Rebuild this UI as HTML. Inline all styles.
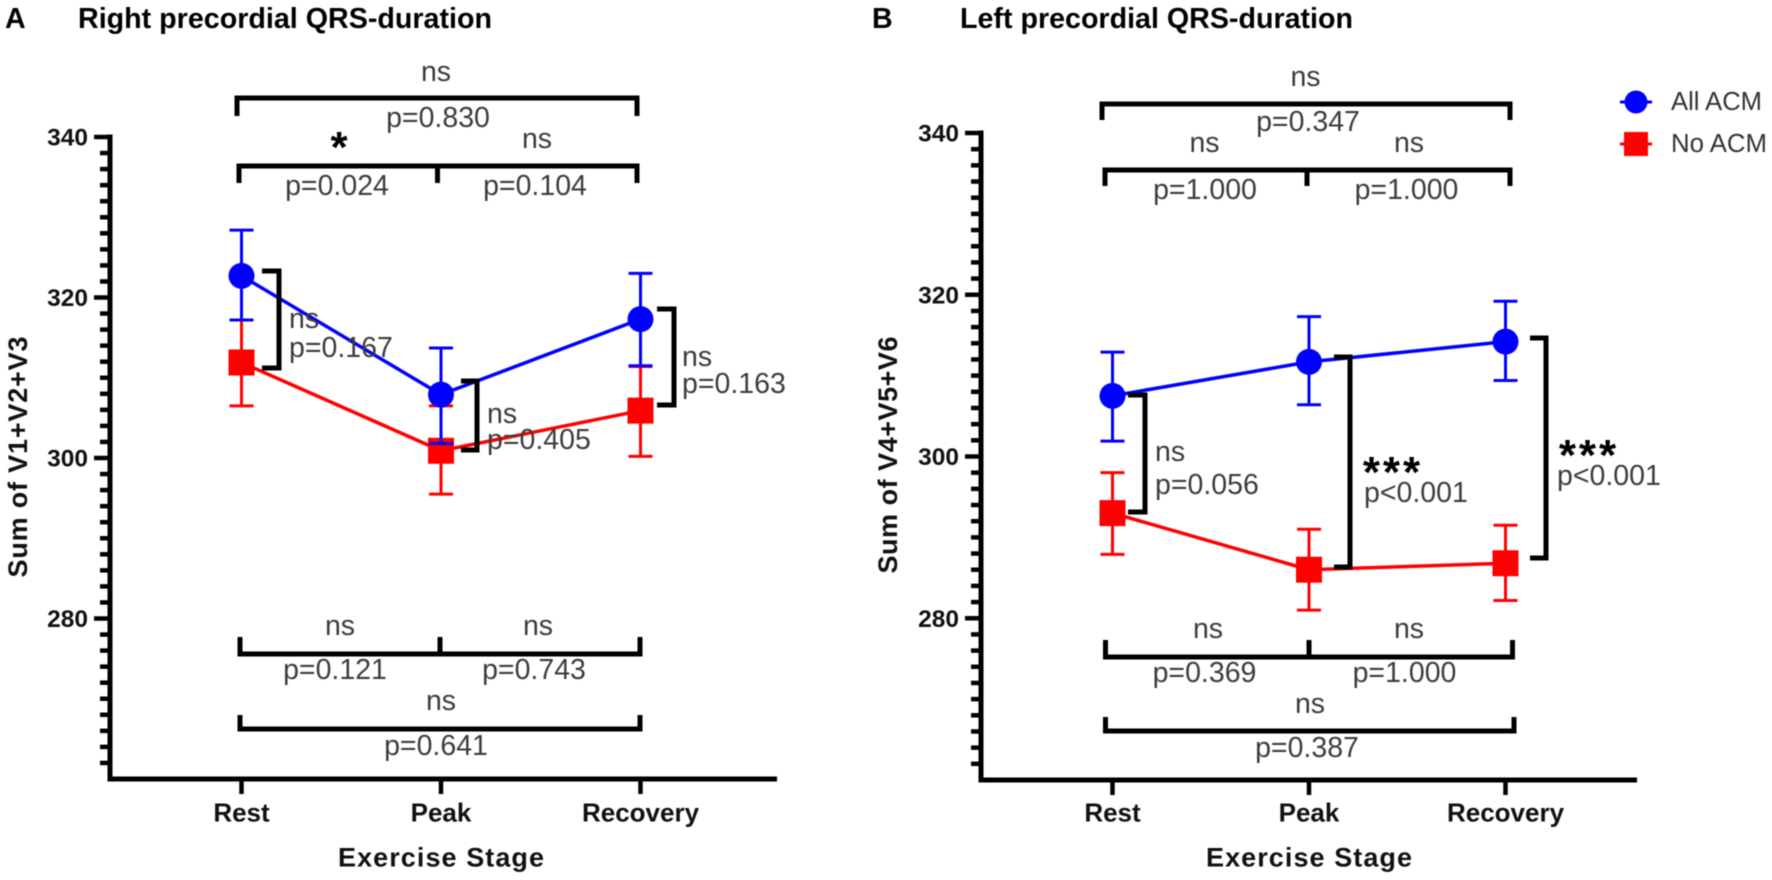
<!DOCTYPE html>
<html lang="en">
<head>
<meta charset="utf-8">
<title>QRS-duration by exercise stage</title>
<style>
html,body{margin:0;padding:0;background:#fff;width:1772px;height:880px;overflow:hidden}
svg{display:block;filter:blur(.4px)}
text{font-family:"Liberation Sans",sans-serif}
.a{font-size:28.5px;fill:#3c3c3c}
.m{text-anchor:middle}
.t{font-size:28.6px;font-weight:bold;fill:#000}
.star{font-size:44px;font-weight:bold;fill:#000;text-anchor:middle}
.br{fill:none;stroke:#000;stroke-width:5}
.lg{font-size:25.5px;fill:#333}
</style>
</head>
<body>
<svg id="fig" xmlns="http://www.w3.org/2000/svg" width="1772" height="880" viewBox="0 0 1772 880">
  <rect width="1772" height="880" fill="#fff"/>
  <text class="t" x="5" y="28">A</text>
  <text class="t" x="78" y="28" textLength="414" lengthAdjust="spacingAndGlyphs">Right precordial QRS-duration</text>
  <text class="t" x="872" y="28">B</text>
  <text class="t" x="960" y="28" textLength="393" lengthAdjust="spacingAndGlyphs">Left precordial QRS-duration</text>

  <g id="panelA"></g>
  <g id="panelB"></g>

  <g>
    <path class="br" d="M237 116V98H637V116"/>
    <text class="a m" x="436" y="81">ns</text>
    <text class="a m" x="438" y="127">p=0.830</text>
    <path class="br" d="M239 183V166H637V183M437.500 166V183"/>
    <text class="star" x="339" y="162">*</text>
    <text class="a m" x="537" y="148">ns</text>
    <text class="a m" x="337" y="195">p=0.024</text>
    <text class="a m" x="535" y="195">p=0.104</text>

    <path class="br" d="M262 271H279V368H262"/>
    <text class="a" x="289" y="328">ns</text>
    <text class="a" x="289" y="357">p=0.167</text>
    <path class="br" d="M461 381H477V450H461"/>
    <text class="a" x="487" y="423">ns</text>
    <text class="a" x="487" y="449">p=0.405</text>
    <path class="br" d="M657 309H674V405H657"/>
    <text class="a" x="682" y="366">ns</text>
    <text class="a" x="682" y="393">p=0.163</text>

    <path class="br" d="M240 637V654H640V637M440 637V654"/>
    <text class="a m" x="340" y="635">ns</text>
    <text class="a m" x="538" y="635">ns</text>
    <text class="a m" x="335" y="679">p=0.121</text>
    <text class="a m" x="534" y="679">p=0.743</text>
    <path class="br" d="M240 715V729H640V715"/>
    <text class="a m" x="441" y="710">ns</text>
    <text class="a m" x="436" y="755">p=0.641</text>
  </g>

  <g>
    <path class="br" d="M1102 120V104H1510V120"/>
    <text class="a m" x="1305.500" y="86">ns</text>
    <text class="a m" x="1308" y="131">p=0.347</text>
    <path class="br" d="M1105 186V170H1510V186M1307 170V186"/>
    <text class="a m" x="1204.500" y="152">ns</text>
    <text class="a m" x="1409" y="152">ns</text>
    <text class="a m" x="1205" y="199">p=1.000</text>
    <text class="a m" x="1406.500" y="199">p=1.000</text>

    <path class="br" d="M1128 395H1145V512H1128"/>
    <text class="a" x="1155" y="461">ns</text>
    <text class="a" x="1155" y="494">p=0.056</text>
    <path class="br" d="M1334 357H1350V567H1334"/>
    <text class="star" x="1393" y="487" letter-spacing="3">***</text>
    <text class="a" x="1364" y="502">p&lt;0.001</text>
    <path class="br" d="M1530 338H1546V558H1530"/>
    <text class="star" x="1589" y="470" letter-spacing="3">***</text>
    <text class="a" x="1557" y="485">p&lt;0.001</text>

    <path class="br" d="M1105.500 640V657H1512.500V640M1309 640V657"/>
    <text class="a m" x="1208" y="638">ns</text>
    <text class="a m" x="1409" y="638">ns</text>
    <text class="a m" x="1204.500" y="682">p=0.369</text>
    <text class="a m" x="1404.500" y="682">p=1.000</text>
    <path class="br" d="M1105.500 717V731H1514V717"/>
    <text class="a m" x="1310" y="713">ns</text>
    <text class="a m" x="1307" y="757">p=0.387</text>
  </g>

  <g>
    <g>
      <line x1="1620" x2="1652" y1="102" y2="102" stroke="#00f" stroke-width="3"/>
      <circle cx="1636" cy="102" r="11.500" fill="#00f"/>
      <text class="lg" x="1671" y="110" textLength="91" lengthAdjust="spacingAndGlyphs">All ACM</text>
    </g>
    <g>
      <line x1="1620" x2="1652" y1="144" y2="144" stroke="#f00" stroke-width="3"/>
      <rect x="1624" y="132" width="24" height="24" fill="#f00"/>
      <text class="lg" x="1671" y="152" textLength="96" lengthAdjust="spacingAndGlyphs">No ACM</text>
    </g>
  </g>
</svg>
<script>
// Shared axis data
const categories = ['Rest', 'Peak', 'Recovery'];
const labelledTicks = [340, 320, 300, 280];
const axisMin = 260;
const axisMax = 340;
const minorStep = 2;

// Panel A: Sum of V1+V2+V3
const aAllMean  = [322.7, 307.9, 317.3];
const aAllUpper = [328.4, 313.7, 323.0];
const aAllLower = [317.2, 301.8, 311.5];
const aNoMean   = [311.9, 300.9, 305.9];
const aNoUpper  = [317.2, 306.5, 311.4];
const aNoLower  = [306.5, 295.5, 300.2];

// Panel B: Sum of V4+V5+V6
const bAllMean  = [307.5, 311.7, 314.2];
const bAllUpper = [312.9, 317.3, 319.2];
const bAllLower = [301.9, 306.4, 309.4];
const bNoMean   = [293.0, 286.0, 286.8];
const bNoUpper  = [298.0, 291.0, 291.5];
const bNoLower  = [287.9, 281.0, 282.2];

const NS = 'http://www.w3.org/2000/svg';
function make(parent, tag, props, name) {
  const el = document.createElementNS(NS, tag);
  for (const k in props) el.setAttribute(k, props[k]);
  
  
  parent.appendChild(el);
  return el;
}

function drawPanel(cfg) {
  const g = document.getElementById(cfg.id);
  const y = v => cfg.yTop + (axisMax - v) * (cfg.yBottom - cfg.yTop) / (axisMax - axisMin);
  const x = i => cfg.x0 + cfg.dx * i;

  // y axis
  make(g, 'line', {x1: cfg.axisX, x2: cfg.axisX, y1: y(axisMax) - 2.5, y2: cfg.yBottom + 2.5, stroke: '#000', 'stroke-width': 5}, 'y-axis-line');
  for (let v = axisMin + minorStep; v <= axisMax; v += minorStep) {
    const major = labelledTicks.includes(v);
    make(g, 'line', {x1: cfg.axisX - (major ? 16 : 10), x2: cfg.axisX, y1: y(v), y2: y(v), stroke: '#000', 'stroke-width': 4.5}, major ? 'y-major-tick' : 'y-minor-tick');
    if (major) {
      const t = make(g, 'text', {x: cfg.axisX - 22, y: y(v) + 8.5, 'text-anchor': 'end', 'font-size': 24.500, 'font-weight': 'bold', fill: '#111'}, 'y-tick-label');
      t.textContent = v;
    }
  }
  const yt = make(g, 'text', {transform: 'translate(' + cfg.yTitleX + ',' + cfg.yTitleY + ') rotate(-90)', 'text-anchor': 'middle', 'font-size': 27, 'font-weight': 'bold', fill: '#111', textLength: cfg.yTitleLen}, 'y-axis-title');
  yt.textContent = cfg.yTitle;

  // x axis
  make(g, 'line', {x1: cfg.axisX - 2.5, x2: cfg.xEnd, y1: cfg.yBottom, y2: cfg.yBottom, stroke: '#000', 'stroke-width': 5}, 'x-axis-line');
  categories.forEach((c, i) => {
    make(g, 'line', {x1: x(i), x2: x(i), y1: cfg.yBottom, y2: cfg.yBottom + 15, stroke: '#000', 'stroke-width': 4.500}, 'x-tick');
    const t = make(g, 'text', {x: x(i), y: 821.500, 'text-anchor': 'middle', 'font-size': 26, 'font-weight': 'bold', fill: '#111'}, 'x-tick-label');
    t.textContent = c;
  });
  const xt = make(g, 'text', {x: x(1), y: 866.500, 'text-anchor': 'middle', 'font-size': 27, 'font-weight': 'bold', fill: '#111', textLength: 206}, 'x-axis-title');
  xt.textContent = 'Exercise Stage';

  // series: red below blue
  drawSeries(g, cfg.no, '#f00', 'square', 'no-acm', x, y);
  drawSeries(g, cfg.all, '#00f', 'circle', 'all-acm', x, y);
}

function drawSeries(g, s, color, shape, key, x, y) {
  const s1 = make(g, 'g', {}, key + '-series');
  const pts = s.mean.map((m, i) => x(i) + ',' + y(m)).join(' ');
  make(s1, 'polyline', {points: pts, fill: 'none', stroke: color, 'stroke-width': 3.500}, key + '-line');
  s.mean.forEach((m, i) => {
    make(s1, 'line', {x1: x(i), x2: x(i), y1: y(s.upper[i]), y2: y(s.lower[i]), stroke: color, 'stroke-width': 3}, key + '-error-bar');
    make(s1, 'line', {x1: x(i) - 12, x2: x(i) + 12, y1: y(s.upper[i]), y2: y(s.upper[i]), stroke: color, 'stroke-width': 3}, key + '-error-cap-upper');
    make(s1, 'line', {x1: x(i) - 12, x2: x(i) + 12, y1: y(s.lower[i]), y2: y(s.lower[i]), stroke: color, 'stroke-width': 3}, key + '-error-cap-lower');
    if (shape === 'circle') {
      make(s1, 'circle', {cx: x(i), cy: y(m), r: 13, fill: color}, key + '-point');
    } else {
      make(s1, 'rect', {x: x(i) - 13, y: y(m) - 13, width: 26, height: 26, fill: color}, key + '-point');
    }
  });
}

drawPanel({
  id: 'panelA', axisX: 110, yTop: 137, yBottom: 779, xEnd: 777, x0: 241.500, dx: 199.500,
  yTitle: 'Sum of V1+V2+V3', yTitleX: 27, yTitleY: 457, yTitleLen: 241,
  all: {mean: aAllMean, upper: aAllUpper, lower: aAllLower},
  no: {mean: aNoMean, upper: aNoUpper, lower: aNoLower}
});
drawPanel({
  id: 'panelB', axisX: 981, yTop: 133, yBottom: 780, xEnd: 1637, x0: 1112.500, dx: 196.500,
  yTitle: 'Sum of V4+V5+V6', yTitleX: 897, yTitleY: 455, yTitleLen: 237,
  all: {mean: bAllMean, upper: bAllUpper, lower: bAllLower},
  no: {mean: bNoMean, upper: bNoUpper, lower: bNoLower}
});
</script>
</body>
</html>
